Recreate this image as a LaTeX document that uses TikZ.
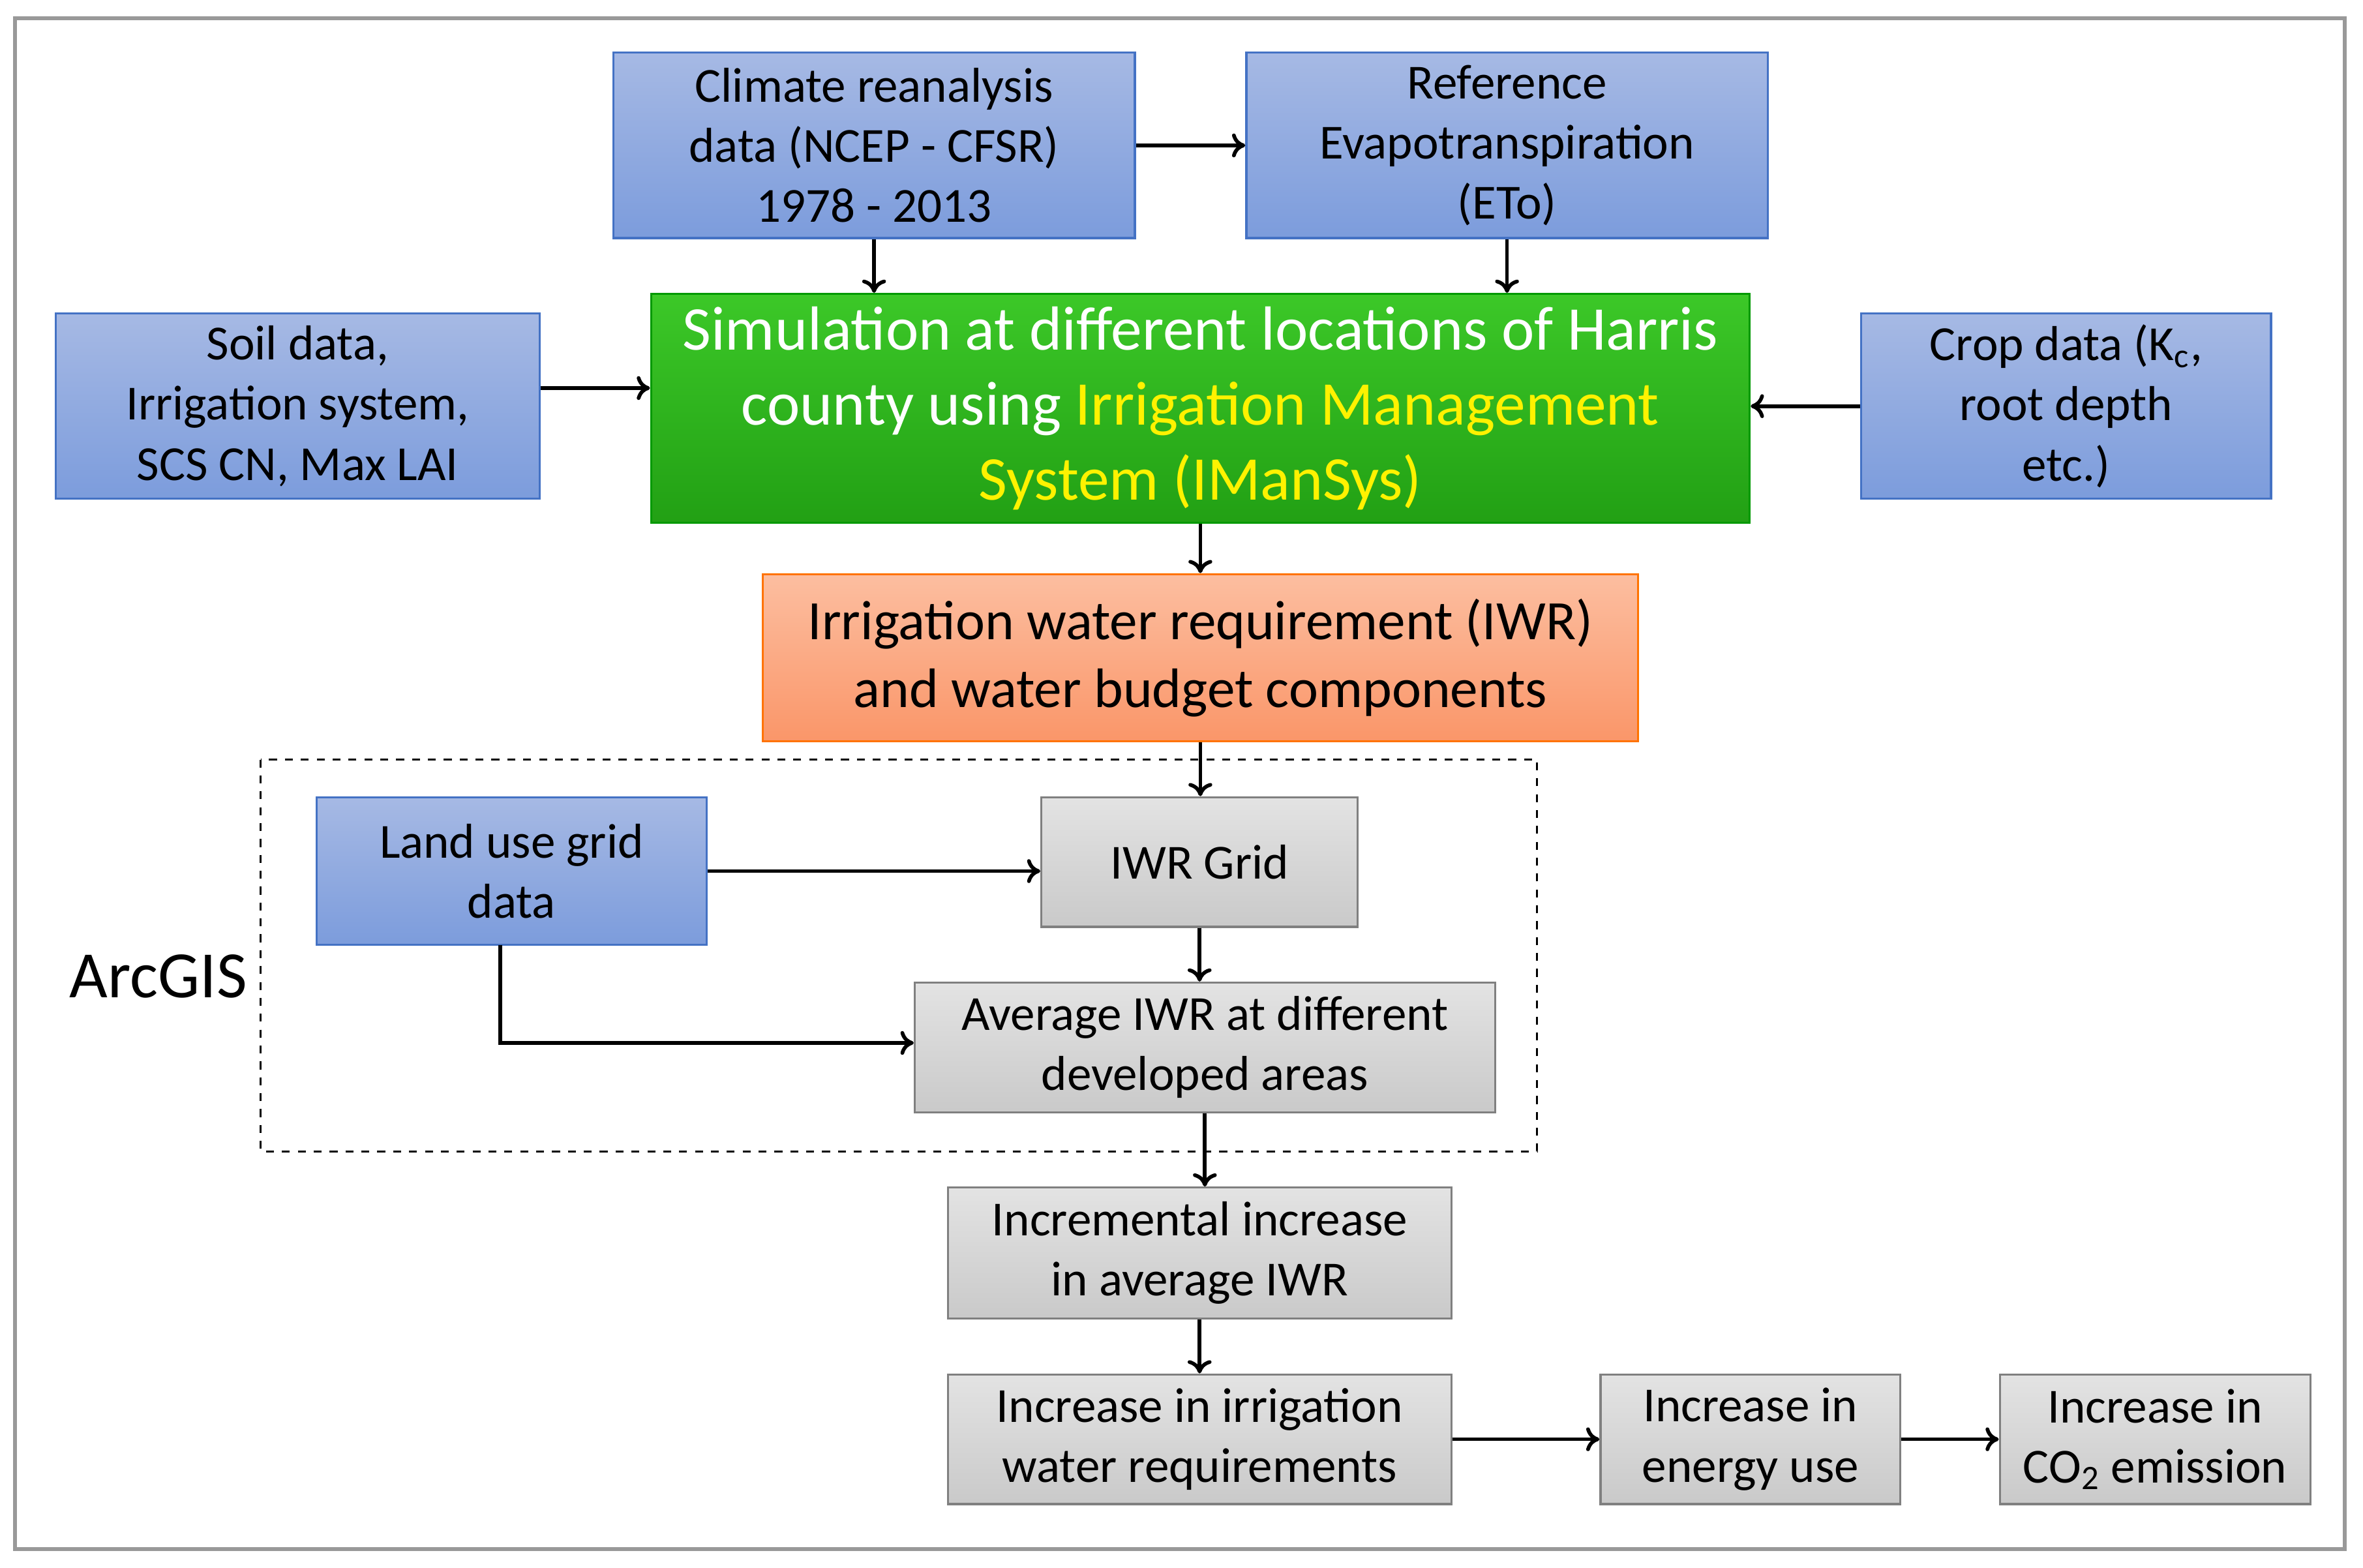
\documentclass[tikz,border=0pt]{standalone}
\usepackage{fontspec}
\setmainfont{Carlito}
\usetikzlibrary{arrows.meta}
\definecolor{btop}{RGB}{166,185,228}
\definecolor{bbot}{RGB}{124,156,220}
\definecolor{bdraw}{RGB}{68,114,196}
\definecolor{gtop}{RGB}{60,200,40}
\definecolor{gbot}{RGB}{34,160,20}
\definecolor{otop}{RGB}{252,190,160}
\definecolor{obot}{RGB}{250,150,105}
\begin{document}
\begin{tikzpicture}[x=0.02cm,y=-0.02cm,
 box/.style={draw, line width=0.8pt, align=center, inner sep=0pt, font=\fontsize{18.5}{22.7}\selectfont},
 blue/.style={box, draw=bdraw, top color=btop, bottom color=bbot},
 grey/.style={box, draw=gray, top color=gray!22, bottom color=gray!42},
 arr/.style={-{To[length=5pt,width=9pt]}, line width=1.4pt}]
\useasboundingbox (0,0) rectangle (1568,1040);
\draw[gray!80, line width=1.5pt] (10,12) rectangle (1556,1028);
\def\bx#1#2#3#4#5#6#7{\node[#2, minimum width={(#5-#3)*0.02cm}, minimum height={(#6-#4)*0.02cm}] (#1) at ({(#3+#5)/2},{(#4+#6)/2}) {#7};}
\bx{clim}{blue}{407}{35}{753}{158}{Climate reanalysis\\data (NCEP - CFSR)\\1978 - 2013}
\bx{ref}{blue}{827}{35}{1173}{158}{Reference\\Evapotranspiration\\(ETo)}
\bx{soil}{blue}{37}{208}{358}{331}{Soil data,\\Irrigation system,\\SCS CN, Max LAI}
\bx{crop}{blue}{1235}{208}{1507}{331}{Crop data (K\textsubscript{c},\\root depth\\etc.)}
\node[box, draw=green!60!black, top color=gtop, bottom color=gbot, text=white, font=\fontsize{23.5}{28.4}\selectfont, minimum width={729*0.02cm}, minimum height={152*0.02cm}] (sim) at (796.5,271) {Simulation at different locations of Harris\\county using \textcolor{yellow}{Irrigation Management}\\\textcolor{yellow}{System (IManSys)}};
\node[box, draw=orange!90!red, top color=otop, bottom color=obot, font=\fontsize{21}{25.6}\selectfont, minimum width={581*0.02cm}, minimum height={111*0.02cm}] (iwr) at (796.5,436.5) {Irrigation water requirement (IWR)\\and water budget components};
\draw[dashed, line width=0.8pt] (173,504) rectangle (1020,764);
\node[font=\fontsize{25}{30}\selectfont] (arc) at (105,648) {ArcGIS};
\bx{land}{blue}{210}{529}{469}{627}{Land use grid\\data}
\bx{grid}{grey}{691}{529}{901}{615}{IWR Grid}
\bx{avg}{grey}{607}{652}{992}{738}{Average IWR at different\\developed areas}
\bx{inc}{grey}{629}{788}{963}{875}{Incremental increase\\in average IWR}
\bx{irr}{grey}{629}{912}{963}{998}{Increase in irrigation\\water requirements}
\bx{en}{grey}{1062}{912}{1261}{998}{Increase in\\energy use}
\bx{co}{grey}{1327}{912}{1533}{998}{Increase in\\CO\textsubscript{2} emission}
\draw[arr] (clim.east) -- (ref.west);
\draw[arr] (clim.south) -- (clim.south |- sim.north);
\draw[arr] (ref.south) -- (ref.south |- sim.north);
\draw[arr] (soil.east) ++(0,-12) coordinate (s1) -- (s1 -| sim.west);
\draw[arr] (crop.west) -- (crop.west -| sim.east);
\draw[arr] (sim.south) -- (iwr.north);
\draw[arr] (iwr.south) -- (iwr.south |- grid.north);
\draw[arr] (land.east) -- (land.east -| grid.west);
\draw[arr] (grid.south) -- (grid.south |- avg.north);
\coordinate (lb) at (332,627);
\draw[arr] (lb) |- (avg.west |- 0,692);
\draw[arr] (avg.south) -- (avg.south |- inc.north);
\draw[arr] (inc.south) -- (irr.north);
\draw[arr] (irr.east) -- (en.west);
\draw[arr] (en.east) -- (co.west);
\end{tikzpicture}
\end{document}
